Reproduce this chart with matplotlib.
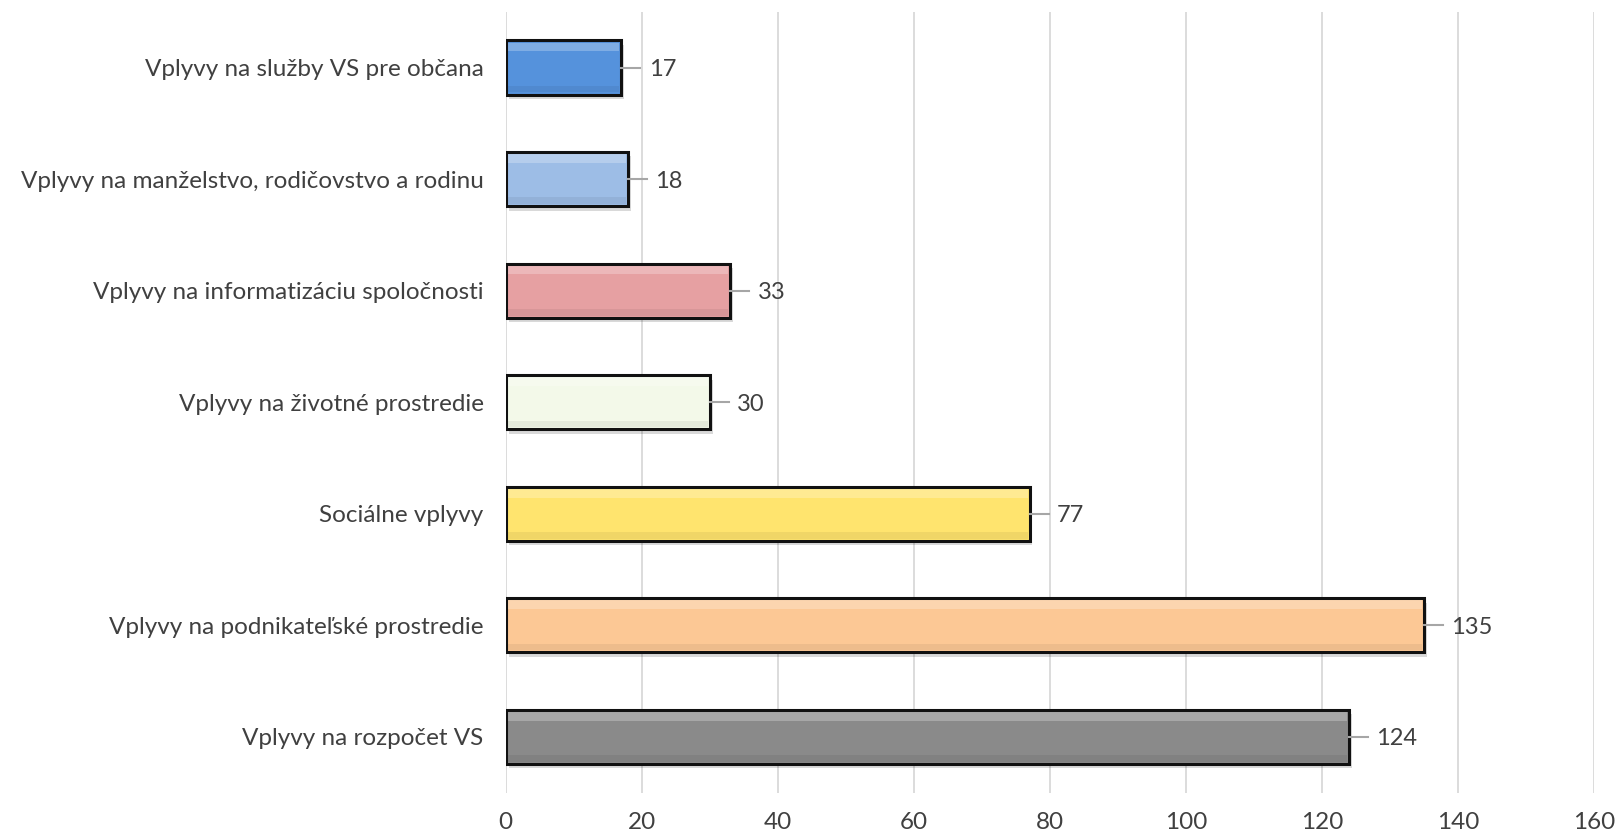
import numpy as np
import matplotlib.pyplot as plt

# Kategórie a hodnoty (zhora nadol ako v grafe)
categories = [
    'Vplyvy na služby VS pre občana',
    'Vplyvy na manželstvo, rodičovstvo a rodinu',
    'Vplyvy na informatizáciu spoločnosti',
    'Vplyvy na životné prostredie',
    'Sociálne vplyvy',
    'Vplyvy na podnikateľské prostredie',
    'Vplyvy na rozpočet VS',
]
values = [17, 18, 33, 30, 77, 135, 124]
colors = ['#5592DC', '#9DBDE6', '#E6A0A2', '#F3F9E9', '#FFE46E', '#FCC895', '#8A8A8A']
x_ticks = [0, 20, 40, 60, 80, 100, 120, 140, 160]

plt.rcParams['font.family'] = ['Lato', 'DejaVu Sans']

fig = plt.figure(figsize=(16.16, 8.38), dpi=100)
ax = fig.add_axes([0.313, 0.054, 0.6735, 0.932])

y = np.arange(len(categories))[::-1]
h = 0.485

# tieň pod stĺpcami
ax.barh(y - 0.04, values, height=h, left=0.4, color='#000000', alpha=0.15, zorder=2)

# samotné stĺpce
ax.barh(y, values, height=h, color=colors, edgecolor='#111111', linewidth=2.2, zorder=3)

# jemný "bevel" - svetlý pruh hore a tmavší dole
ax.barh(y + h * 0.38, np.array(values) - 0.6, height=h * 0.16, left=0.3,
        color='white', alpha=0.25, linewidth=0, zorder=4)
ax.barh(y - h * 0.40, np.array(values) - 0.6, height=h * 0.12, left=0.3,
        color='black', alpha=0.06, linewidth=0, zorder=4)

# popisky hodnôt s vodiacou čiarkou
for yi, v in zip(y, values):
    ax.plot([v, v + 2.8], [yi, yi], color='#A6A6A6', linewidth=1.5, zorder=3)
    ax.text(v + 4.0, yi, str(v), va='center_baseline', ha='left', fontsize=17, color='#404040')

ax.set_xlim(0, 160)
ax.set_ylim(-0.5, len(categories) - 0.5)
ax.set_xticks(x_ticks)
ax.set_yticks(y)
ax.set_yticklabels(categories)
ax.tick_params(axis='both', length=0, labelsize=17.5, colors='#404040')
ax.tick_params(axis='y', pad=16)
ax.tick_params(axis='x', pad=14)

ax.grid(True, axis='x', color='#D9D9D9', linewidth=1.3, zorder=0)
ax.set_axisbelow(True)
for s in ax.spines.values():
    s.set_visible(False)

plt.savefig('out.png', dpi=100)
